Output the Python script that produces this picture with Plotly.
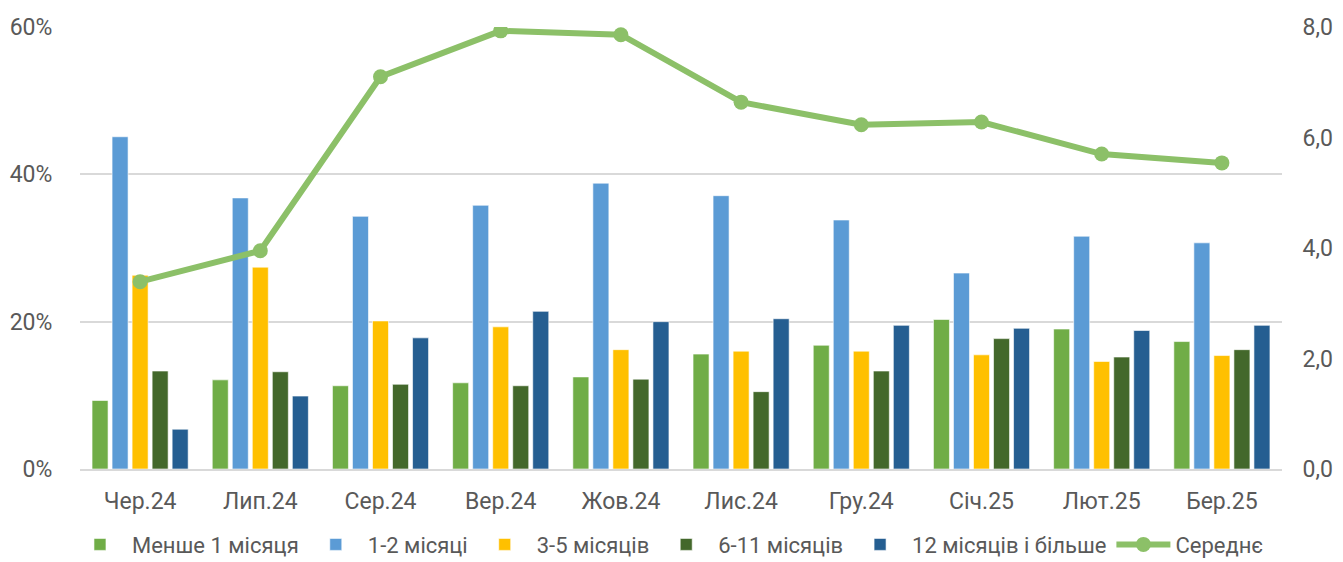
import plotly.graph_objects as go
from plotly.subplots import make_subplots

categories = ["Чер.24", "Лип.24", "Сер.24", "Вер.24", "Жов.24", "Лис.24", "Гру.24", "Січ.25", "Лют.25", "Бер.25"]
less_1 = [9.3, 12.1, 11.3, 11.7, 12.5, 15.6, 16.8, 20.3, 19.0, 17.3]
m1_2 = [45.1, 36.8, 34.3, 35.8, 38.8, 37.1, 33.8, 26.6, 31.6, 30.7]
m3_5 = [26.3, 27.4, 20.1, 19.3, 16.2, 16.0, 16.0, 15.5, 14.6, 15.4]
m6_11 = [13.3, 13.2, 11.5, 11.3, 12.2, 10.5, 13.3, 17.7, 15.2, 16.2]
m12 = [5.4, 9.9, 17.8, 21.4, 20.0, 20.4, 19.5, 19.1, 18.8, 19.5]
average = [3.39, 3.95, 7.1, 7.93, 7.86, 6.64, 6.23, 6.28, 5.70, 5.54]

left_ticks = [0, 20, 40, 60]
left_labels = ["0%", "20%", "40%", "60%"]
right_ticks = [0, 2, 4, 6, 8]
right_labels = ["0,0", "2,0", "4,0", "6,0", "8,0"]

series = [
    ("Менше 1 місяця", less_1, "#70AD47"),
    ("1-2 місяці", m1_2, "#5B9BD5"),
    ("3-5 місяців", m3_5, "#FFC000"),
    ("6-11 місяців", m6_11, "#43682B"),
    ("12 місяців і більше", m12, "#255E91"),
]

FONT = "Roboto"
GRAY = "#595959"
FS = 23

fig = make_subplots(specs=[[{"secondary_y": True}]])
for name, vals, col in series:
    fig.add_trace(go.Bar(x=categories, y=vals, name=name, marker_color=col,
                         marker_line=dict(width=1, color="rgba(255,255,255,0.6)")),
                  secondary_y=False)

fig.add_trace(go.Scatter(x=categories, y=average, name="Середнє", mode="lines+markers",
                         line=dict(color="#8CC068", width=6),
                         marker=dict(size=15, color="#8CC068")),
              secondary_y=True)

fig.update_layout(
    width=1343, height=562,
    margin=dict(l=80, r=61, t=27, b=93, autoexpand=False),
    plot_bgcolor="white", paper_bgcolor="white",
    barmode="group", bargap=0.167, bargroupgap=0.2,
    font=dict(family=FONT, size=FS, color=GRAY),
    showlegend=True,
    legend=dict(orientation="h", x=-0.01, xanchor="left", y=-0.171, yanchor="middle",
                font=dict(family=FONT, size=22, color=GRAY), itemwidth=54,
                traceorder="normal", tracegroupgap=0),
)
fig.update_xaxes(domain=[0, 1], range=[-0.5, 9.5], showgrid=False, showline=True,
                 linecolor="#D9D9D9", linewidth=2,
                 ticks="outside", ticklen=10, tickcolor="rgba(0,0,0,0)", automargin=False,
                 tickfont=dict(family=FONT, size=FS, color=GRAY))
fig.update_yaxes(range=[0, 60], tickmode="array", tickvals=left_ticks, ticktext=left_labels,
                 showgrid=True, gridcolor="#D9D9D9", gridwidth=2,
                 zeroline=False, showline=False, automargin=False,
                 ticks="outside", ticklen=22, tickcolor="rgba(0,0,0,0)",
                 tickfont=dict(family=FONT, size=FS, color=GRAY), secondary_y=False)
fig.update_yaxes(range=[0, 8], tickmode="array", tickvals=right_ticks, ticktext=right_labels,
                 showgrid=False, zeroline=False, showline=False, automargin=False,
                 ticks="outside", ticklen=15, tickcolor="rgba(0,0,0,0)",
                 tickfont=dict(family=FONT, size=FS, color=GRAY), secondary_y=True)

fig.write_html("out.html", config={"displayModeBar": False},
               post_script="document.body.style.margin='0';document.body.style.overflow='hidden';")
